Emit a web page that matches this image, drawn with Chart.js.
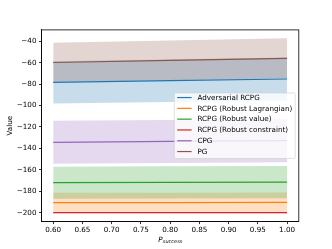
<!DOCTYPE html>
<html>
<head>
<meta charset="utf-8">
<script src="https://cdn.jsdelivr.net/npm/chart.js@4.4.1/dist/chart.umd.min.js"></script>
<style>
  html, body { margin: 0; padding: 0; background: #fff; }
  canvas { display: block; }
</style>
</head>
<body>
<canvas id="chart" width="332" height="249"></canvas>
<script>
// Values (mean and half-width of the shaded band)
const pValues = [0.6, 0.8, 1.0];

const seriesNames = [
  'Adversarial RCPG',
  'RCPG (Robust Lagrangian)',
  'RCPG (Robust value)',
  'RCPG (Robust constraint)',
  'CPG',
  'PG'
];
const seriesColors = ['#1f77b4', '#ff7f0e', '#2ca02c', '#d62728', '#9467bd', '#8c564b'];

const advMean = [-78.3, -76.8, -75.2];
const advStd = [19.7, 19.8, 20.0];
const lagMean = [-190.6, -190.5, -190.3];
const lagStd = [9.2, 9.2, 9.2];
const valMean = [-172.0, -171.7, -171.4];
const valStd = [15.0, 15.0, 15.0];
const conMean = [-200.0, -200.0, -200.0];
const conStd = [0.5, 0.5, 0.5];
const cpgMean = [-134.3, -133.5, -132.8];
const cpgStd = [20.0, 20.0, 20.2];
const pgMean = [-59.8, -57.9, -55.9];
const pgStd = [18.3, 18.5, 18.7];

const xTicks = [0.6, 0.65, 0.7, 0.75, 0.8, 0.85, 0.9, 0.95, 1.0];
const yTicks = [-200, -180, -160, -140, -120, -100, -80, -60, -40];

const FONT = 'DejaVu Sans';
const FS = 7.2;

function hexA(hex, a) {
  const n = parseInt(hex.slice(1), 16);
  return `rgba(${(n >> 16) & 255},${(n >> 8) & 255},${n & 255},${a})`;
}

const means = [advMean, lagMean, valMean, conMean, cpgMean, pgMean];
const stds = [advStd, lagStd, valStd, conStd, cpgStd, pgStd];

// bands first (under every line, later series on top), then the mean lines
const datasets = [];
means.forEach((m, i) => {
  const lowerIdx = datasets.length;
  datasets.push({
    data: pValues.map((p, k) => ({ x: p, y: m[k] - stds[i][k] })),
    borderWidth: 0, pointRadius: 0, fill: false,
    order: 100 - i * 10
  });
  datasets.push({
    data: pValues.map((p, k) => ({ x: p, y: m[k] + stds[i][k] })),
    borderWidth: 0, pointRadius: 0,
    backgroundColor: hexA(seriesColors[i], 0.25),
    fill: lowerIdx,
    order: 100 - i * 10
  });
});
means.forEach((m, i) => {
  datasets.push({
    label: seriesNames[i],
    data: pValues.map((p, k) => ({ x: p, y: m[k] })),
    borderColor: seriesColors[i],
    borderWidth: 1.2, pointRadius: 0, fill: false,
    order: 10 - i
  });
});

// frame, x label with subscript, legend box inside the plot
const decor = {
  id: 'decor',
  afterDraw(chart) {
    const { ctx, chartArea: a } = chart;
    ctx.save();
    ctx.strokeStyle = '#000';
    ctx.lineWidth = 0.8;
    ctx.strokeRect(a.left, a.top, a.right - a.left, a.bottom - a.top);

    // x label: P_success
    ctx.fillStyle = '#000';
    ctx.textBaseline = 'alphabetic';
    ctx.font = `italic ${FS}px "${FONT}"`;
    const wP = ctx.measureText('P').width;
    ctx.font = `italic 5px "${FONT}"`;
    const wS = ctx.measureText('success').width;
    const cx = (a.left + a.right) / 2;
    const x0 = cx - (wP + wS) / 2;
    ctx.font = `italic ${FS}px "${FONT}"`;
    ctx.fillText('P', x0, 241.6);
    ctx.font = `italic 5px "${FONT}"`;
    ctx.fillText('success', x0 + wP + 0.3, 243.3);

    // legend
    ctx.font = `${FS}px "${FONT}"`;
    const maxW = Math.max(...seriesNames.map(s => ctx.measureText(s).width));
    const pad = 2.9, handle = 14.4, gap = 5.8, step = 10.8;
    const w = pad * 2 + handle + gap + maxW;
    const h = 65.6;
    const right = a.right - 3.6;
    const left = right - w;
    const top = (a.top + a.bottom) / 2 - h / 2;
    ctx.beginPath();
    if (ctx.roundRect) ctx.roundRect(left, top, w, h, 1.5);
    else ctx.rect(left, top, w, h);
    ctx.fillStyle = 'rgba(255,255,255,0.8)';
    ctx.fill();
    ctx.strokeStyle = '#cccccc';
    ctx.lineWidth = 0.6;
    ctx.stroke();
    ctx.textBaseline = 'middle';
    seriesNames.forEach((name, i) => {
      const y = top + 4.6 + i * step;
      ctx.strokeStyle = seriesColors[i];
      ctx.lineWidth = 1.2;
      ctx.beginPath();
      ctx.moveTo(left + pad, y);
      ctx.lineTo(left + pad + handle, y);
      ctx.stroke();
      ctx.fillStyle = '#000';
      ctx.fillText(name, left + pad + handle + gap, y + 0.3);
    });
    ctx.restore();
  }
};

new Chart(document.getElementById('chart'), {
  type: 'line',
  data: { datasets },
  options: {
    responsive: false,
    animation: false,
    layout: { padding: { left: 0, top: 29.9, right: 33.2, bottom: 0 } },
    plugins: {
      legend: { display: false },
      tooltip: { enabled: false },
      filler: { propagate: false }
    },
    scales: {
      x: {
        type: 'linear',
        min: 0.58,
        max: 1.02,
        afterBuildTicks: (s) => { s.ticks = xTicks.map(v => ({ value: v })); },
        afterFit: (s) => { s.height = 27.4; },
        ticks: {
          color: '#000',
          font: { family: FONT, size: FS },
          padding: 2,
          maxRotation: 0,
          autoSkip: false,
          callback: (v) => Number(v).toFixed(2)
        },
        grid: { drawOnChartArea: false, drawTicks: true, tickLength: 2.5, color: '#000', lineWidth: 0.8 },
        border: { display: true, color: '#000', width: 0.8 }
      },
      y: {
        min: -208.3,
        max: -29.4,
        afterBuildTicks: (s) => { s.ticks = yTicks.map(v => ({ value: v })); },
        afterFit: (s) => { s.width = 41.5; },
        ticks: {
          color: '#000',
          font: { family: FONT, size: FS },
          padding: 2.5,
          autoSkip: false,
          callback: (v) => String(v).replace('-', '\u2212')
        },
        grid: { drawOnChartArea: false, drawTicks: true, tickLength: 2.5, color: '#000', lineWidth: 0.8 },
        border: { display: true, color: '#000', width: 0.8 },
        title: {
          display: true,
          text: 'Value',
          color: '#000',
          font: { family: FONT, size: FS },
          padding: { top: 5.7, bottom: 0 }
        }
      }
    }
  },
  plugins: [decor]
});
</script>
</body>
</html>
